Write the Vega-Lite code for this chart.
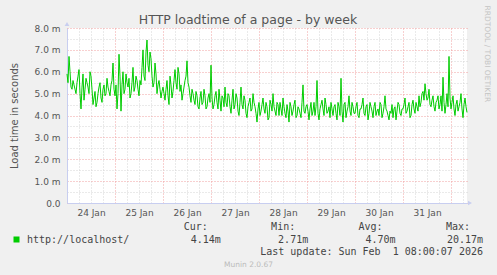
{
  "$schema": "https://vega.github.io/schema/vega-lite/v6.json",
  "width": 400,
  "height": 175,
  "autosize": {"type": "none"},
  "padding": {"left": 67, "top": 28, "right": 30, "bottom": 72},
  "background": "#f0f0f0",
  "config": {"view": {"fill": "#ffffff", "stroke": null}, "font": "DejaVu Sans"},
  "title": {"text": "HTTP loadtime of a page - by week", "fontSize": 12.5, "fontWeight": "normal", "color": "#555555", "anchor": "middle", "dx": -19, "dy": 35.5, "offset": 4, "baseline": "alphabetic"},
  "datasets": {
    "series": [
      {"t":"2026-01-24T00:00:00Z","v":5.9},{"t":"2026-01-24T01:00:00Z","v":6.7},{"t":"2026-01-24T02:00:00Z","v":5.3},{"t":"2026-01-24T03:00:00Z","v":5.6},{"t":"2026-01-24T04:00:00Z","v":5.2},{"t":"2026-01-24T05:00:00Z","v":5.5},{"t":"2026-01-24T06:00:00Z","v":6.1},{"t":"2026-01-24T07:00:00Z","v":4.3},{"t":"2026-01-24T08:00:00Z","v":5.9},{"t":"2026-01-24T09:00:00Z","v":5.2},{"t":"2026-01-24T10:00:00Z","v":5.5},{"t":"2026-01-24T11:00:00Z","v":5.0},{"t":"2026-01-24T12:00:00Z","v":5.8},{"t":"2026-01-24T13:00:00Z","v":4.5},{"t":"2026-01-24T14:00:00Z","v":5.1},{"t":"2026-01-24T15:00:00Z","v":4.6},{"t":"2026-01-24T16:00:00Z","v":5.3},{"t":"2026-01-24T17:00:00Z","v":4.8},{"t":"2026-01-24T18:00:00Z","v":5.2},{"t":"2026-01-24T19:00:00Z","v":4.9},{"t":"2026-01-24T20:00:00Z","v":5.7},{"t":"2026-01-24T21:00:00Z","v":5.1},{"t":"2026-01-24T22:00:00Z","v":5.4},{"t":"2026-01-24T23:00:00Z","v":6.4},
      {"t":"2026-01-25T00:00:00Z","v":4.9},{"t":"2026-01-25T01:00:00Z","v":4.3},{"t":"2026-01-25T02:00:00Z","v":6.8},{"t":"2026-01-25T03:00:00Z","v":4.2},{"t":"2026-01-25T04:00:00Z","v":6.0},{"t":"2026-01-25T05:00:00Z","v":5.2},{"t":"2026-01-25T06:00:00Z","v":5.5},{"t":"2026-01-25T07:00:00Z","v":5.7},{"t":"2026-01-25T08:00:00Z","v":5.0},{"t":"2026-01-25T09:00:00Z","v":6.2},{"t":"2026-01-25T10:00:00Z","v":5.3},{"t":"2026-01-25T11:00:00Z","v":5.6},{"t":"2026-01-25T12:00:00Z","v":4.9},{"t":"2026-01-25T13:00:00Z","v":5.4},{"t":"2026-01-25T14:00:00Z","v":7.0},{"t":"2026-01-25T15:00:00Z","v":5.6},{"t":"2026-01-25T16:00:00Z","v":7.45},{"t":"2026-01-25T17:00:00Z","v":6.0},{"t":"2026-01-25T18:00:00Z","v":6.6},{"t":"2026-01-25T19:00:00Z","v":5.3},{"t":"2026-01-25T20:00:00Z","v":6.4},{"t":"2026-01-25T21:00:00Z","v":5.0},{"t":"2026-01-25T22:00:00Z","v":5.6},{"t":"2026-01-25T23:00:00Z","v":4.8},
      {"t":"2026-01-26T00:00:00Z","v":5.3},{"t":"2026-01-26T01:00:00Z","v":4.7},{"t":"2026-01-26T02:00:00Z","v":5.6},{"t":"2026-01-26T03:00:00Z","v":4.5},{"t":"2026-01-26T04:00:00Z","v":5.4},{"t":"2026-01-26T05:00:00Z","v":5.1},{"t":"2026-01-26T06:00:00Z","v":6.1},{"t":"2026-01-26T07:00:00Z","v":5.2},{"t":"2026-01-26T08:00:00Z","v":5.9},{"t":"2026-01-26T09:00:00Z","v":5.4},{"t":"2026-01-26T10:00:00Z","v":5.0},{"t":"2026-01-26T11:00:00Z","v":5.6},{"t":"2026-01-26T12:00:00Z","v":6.5},{"t":"2026-01-26T13:00:00Z","v":5.3},{"t":"2026-01-26T14:00:00Z","v":4.6},{"t":"2026-01-26T15:00:00Z","v":5.0},{"t":"2026-01-26T16:00:00Z","v":4.5},{"t":"2026-01-26T17:00:00Z","v":4.9},{"t":"2026-01-26T18:00:00Z","v":4.3},{"t":"2026-01-26T19:00:00Z","v":5.1},{"t":"2026-01-26T20:00:00Z","v":4.6},{"t":"2026-01-26T21:00:00Z","v":4.9},{"t":"2026-01-26T22:00:00Z","v":4.4},{"t":"2026-01-26T23:00:00Z","v":5.0},
      {"t":"2026-01-27T00:00:00Z","v":6.3},{"t":"2026-01-27T01:00:00Z","v":4.3},{"t":"2026-01-27T02:00:00Z","v":4.9},{"t":"2026-01-27T03:00:00Z","v":4.6},{"t":"2026-01-27T04:00:00Z","v":5.2},{"t":"2026-01-27T05:00:00Z","v":4.2},{"t":"2026-01-27T06:00:00Z","v":4.8},{"t":"2026-01-27T07:00:00Z","v":5.3},{"t":"2026-01-27T08:00:00Z","v":4.4},{"t":"2026-01-27T09:00:00Z","v":4.9},{"t":"2026-01-27T10:00:00Z","v":4.1},{"t":"2026-01-27T11:00:00Z","v":5.2},{"t":"2026-01-27T12:00:00Z","v":4.5},{"t":"2026-01-27T13:00:00Z","v":4.8},{"t":"2026-01-27T14:00:00Z","v":4.0},{"t":"2026-01-27T15:00:00Z","v":5.3},{"t":"2026-01-27T16:00:00Z","v":4.3},{"t":"2026-01-27T17:00:00Z","v":4.7},{"t":"2026-01-27T18:00:00Z","v":3.9},{"t":"2026-01-27T19:00:00Z","v":4.6},{"t":"2026-01-27T20:00:00Z","v":4.2},{"t":"2026-01-27T21:00:00Z","v":5.0},{"t":"2026-01-27T22:00:00Z","v":4.4},{"t":"2026-01-27T23:00:00Z","v":3.7},
      {"t":"2026-01-28T00:00:00Z","v":4.6},{"t":"2026-01-28T01:00:00Z","v":4.2},{"t":"2026-01-28T02:00:00Z","v":4.8},{"t":"2026-01-28T03:00:00Z","v":4.1},{"t":"2026-01-28T04:00:00Z","v":4.4},{"t":"2026-01-28T05:00:00Z","v":3.9},{"t":"2026-01-28T06:00:00Z","v":4.5},{"t":"2026-01-28T07:00:00Z","v":5.0},{"t":"2026-01-28T08:00:00Z","v":4.2},{"t":"2026-01-28T09:00:00Z","v":4.6},{"t":"2026-01-28T10:00:00Z","v":4.0},{"t":"2026-01-28T11:00:00Z","v":4.3},{"t":"2026-01-28T12:00:00Z","v":4.8},{"t":"2026-01-28T13:00:00Z","v":4.1},{"t":"2026-01-28T14:00:00Z","v":4.5},{"t":"2026-01-28T15:00:00Z","v":3.7},{"t":"2026-01-28T16:00:00Z","v":4.4},{"t":"2026-01-28T17:00:00Z","v":4.2},{"t":"2026-01-28T18:00:00Z","v":4.7},{"t":"2026-01-28T19:00:00Z","v":4.0},{"t":"2026-01-28T20:00:00Z","v":4.3},{"t":"2026-01-28T21:00:00Z","v":3.9},{"t":"2026-01-28T22:00:00Z","v":5.4},{"t":"2026-01-28T23:00:00Z","v":4.1},
      {"t":"2026-01-29T00:00:00Z","v":4.5},{"t":"2026-01-29T01:00:00Z","v":3.8},{"t":"2026-01-29T02:00:00Z","v":4.6},{"t":"2026-01-29T03:00:00Z","v":4.2},{"t":"2026-01-29T04:00:00Z","v":4.0},{"t":"2026-01-29T05:00:00Z","v":5.6},{"t":"2026-01-29T06:00:00Z","v":3.8},{"t":"2026-01-29T07:00:00Z","v":4.5},{"t":"2026-01-29T08:00:00Z","v":4.3},{"t":"2026-01-29T09:00:00Z","v":4.8},{"t":"2026-01-29T10:00:00Z","v":4.1},{"t":"2026-01-29T11:00:00Z","v":4.4},{"t":"2026-01-29T12:00:00Z","v":4.6},{"t":"2026-01-29T13:00:00Z","v":4.0},{"t":"2026-01-29T14:00:00Z","v":4.5},{"t":"2026-01-29T15:00:00Z","v":3.8},{"t":"2026-01-29T16:00:00Z","v":4.4},{"t":"2026-01-29T17:00:00Z","v":5.7},{"t":"2026-01-29T18:00:00Z","v":3.7},{"t":"2026-01-29T19:00:00Z","v":4.6},{"t":"2026-01-29T20:00:00Z","v":4.2},{"t":"2026-01-29T21:00:00Z","v":4.9},{"t":"2026-01-29T22:00:00Z","v":4.0},{"t":"2026-01-29T23:00:00Z","v":4.4},
      {"t":"2026-01-30T00:00:00Z","v":4.1},{"t":"2026-01-30T01:00:00Z","v":4.6},{"t":"2026-01-30T02:00:00Z","v":3.9},{"t":"2026-01-30T03:00:00Z","v":4.3},{"t":"2026-01-30T04:00:00Z","v":4.8},{"t":"2026-01-30T05:00:00Z","v":4.0},{"t":"2026-01-30T06:00:00Z","v":4.5},{"t":"2026-01-30T07:00:00Z","v":4.1},{"t":"2026-01-30T08:00:00Z","v":4.4},{"t":"2026-01-30T09:00:00Z","v":3.9},{"t":"2026-01-30T10:00:00Z","v":4.6},{"t":"2026-01-30T11:00:00Z","v":4.2},{"t":"2026-01-30T12:00:00Z","v":4.0},{"t":"2026-01-30T13:00:00Z","v":4.5},{"t":"2026-01-30T14:00:00Z","v":4.1},{"t":"2026-01-30T15:00:00Z","v":4.9},{"t":"2026-01-30T16:00:00Z","v":4.2},{"t":"2026-01-30T17:00:00Z","v":3.8},{"t":"2026-01-30T18:00:00Z","v":4.1},{"t":"2026-01-30T19:00:00Z","v":3.9},{"t":"2026-01-30T20:00:00Z","v":4.4},{"t":"2026-01-30T21:00:00Z","v":4.2},{"t":"2026-01-30T22:00:00Z","v":4.5},{"t":"2026-01-30T23:00:00Z","v":4.0},
      {"t":"2026-01-31T00:00:00Z","v":4.3},{"t":"2026-01-31T01:00:00Z","v":4.8},{"t":"2026-01-31T02:00:00Z","v":4.2},{"t":"2026-01-31T03:00:00Z","v":4.6},{"t":"2026-01-31T04:00:00Z","v":4.0},{"t":"2026-01-31T05:00:00Z","v":4.7},{"t":"2026-01-31T06:00:00Z","v":4.1},{"t":"2026-01-31T07:00:00Z","v":4.4},{"t":"2026-01-31T08:00:00Z","v":4.9},{"t":"2026-01-31T09:00:00Z","v":4.6},{"t":"2026-01-31T10:00:00Z","v":5.1},{"t":"2026-01-31T11:00:00Z","v":5.45},{"t":"2026-01-31T12:00:00Z","v":4.7},{"t":"2026-01-31T13:00:00Z","v":5.2},{"t":"2026-01-31T14:00:00Z","v":4.4},{"t":"2026-01-31T15:00:00Z","v":4.9},{"t":"2026-01-31T16:00:00Z","v":4.2},{"t":"2026-01-31T17:00:00Z","v":4.7},{"t":"2026-01-31T18:00:00Z","v":4.3},{"t":"2026-01-31T19:00:00Z","v":4.9},{"t":"2026-01-31T20:00:00Z","v":5.75},{"t":"2026-01-31T21:00:00Z","v":4.1},{"t":"2026-01-31T22:00:00Z","v":5.0},{"t":"2026-01-31T23:00:00Z","v":6.7},
      {"t":"2026-02-01T00:00:00Z","v":4.3},{"t":"2026-02-01T01:00:00Z","v":4.9},{"t":"2026-02-01T02:00:00Z","v":4.0},{"t":"2026-02-01T03:00:00Z","v":4.7},{"t":"2026-02-01T04:00:00Z","v":4.4},{"t":"2026-02-01T05:00:00Z","v":5.0},{"t":"2026-02-01T06:00:00Z","v":3.9},{"t":"2026-02-01T07:00:00Z","v":4.8},{"t":"2026-02-01T08:00:00Z","v":4.14},
      {"t":"2026-01-24T00:30:00Z","v":5.5},{"t":"2026-01-24T01:30:00Z","v":6.0},{"t":"2026-01-24T02:30:00Z","v":5.2},{"t":"2026-01-24T03:30:00Z","v":5.4},{"t":"2026-01-24T04:30:00Z","v":5.0},{"t":"2026-01-24T05:30:00Z","v":5.8},{"t":"2026-01-24T06:30:00Z","v":5.0},{"t":"2026-01-24T07:30:00Z","v":5.3},{"t":"2026-01-24T08:30:00Z","v":4.7},{"t":"2026-01-24T09:30:00Z","v":5.7},{"t":"2026-01-24T10:30:00Z","v":5.3},{"t":"2026-01-24T11:30:00Z","v":6.0},{"t":"2026-01-24T12:30:00Z","v":5.2},{"t":"2026-01-24T13:30:00Z","v":4.8},{"t":"2026-01-24T14:30:00Z","v":4.4},{"t":"2026-01-24T15:30:00Z","v":5.0},{"t":"2026-01-24T16:30:00Z","v":5.5},{"t":"2026-01-24T17:30:00Z","v":4.6},{"t":"2026-01-24T18:30:00Z","v":5.4},{"t":"2026-01-24T19:30:00Z","v":5.0},{"t":"2026-01-24T20:30:00Z","v":5.3},{"t":"2026-01-24T21:30:00Z","v":4.9},{"t":"2026-01-24T22:30:00Z","v":5.6},{"t":"2026-01-24T23:30:00Z","v":5.2},
      {"t":"2026-01-25T00:30:00Z","v":5.4},{"t":"2026-01-25T01:30:00Z","v":5.0},{"t":"2026-01-25T02:30:00Z","v":5.8},{"t":"2026-01-25T03:30:00Z","v":5.4},{"t":"2026-01-25T04:30:00Z","v":5.0},{"t":"2026-01-25T05:30:00Z","v":5.9},{"t":"2026-01-25T06:30:00Z","v":5.3},{"t":"2026-01-25T07:30:00Z","v":4.8},{"t":"2026-01-25T08:30:00Z","v":5.5},{"t":"2026-01-25T09:30:00Z","v":5.1},{"t":"2026-01-25T10:30:00Z","v":5.8},{"t":"2026-01-25T11:30:00Z","v":5.2},{"t":"2026-01-25T12:30:00Z","v":5.6},{"t":"2026-01-25T13:30:00Z","v":6.2},{"t":"2026-01-25T14:30:00Z","v":5.8},{"t":"2026-01-25T15:30:00Z","v":6.9},{"t":"2026-01-25T16:30:00Z","v":6.3},{"t":"2026-01-25T17:30:00Z","v":6.9},{"t":"2026-01-25T18:30:00Z","v":5.8},{"t":"2026-01-25T19:30:00Z","v":5.5},{"t":"2026-01-25T20:30:00Z","v":5.9},{"t":"2026-01-25T21:30:00Z","v":5.4},{"t":"2026-01-25T22:30:00Z","v":5.2},{"t":"2026-01-25T23:30:00Z","v":5.1},
      {"t":"2026-01-26T00:30:00Z","v":5.0},{"t":"2026-01-26T01:30:00Z","v":5.2},{"t":"2026-01-26T02:30:00Z","v":4.9},{"t":"2026-01-26T03:30:00Z","v":5.8},{"t":"2026-01-26T04:30:00Z","v":4.8},{"t":"2026-01-26T05:30:00Z","v":5.6},{"t":"2026-01-26T06:30:00Z","v":5.5},{"t":"2026-01-26T07:30:00Z","v":6.2},{"t":"2026-01-26T08:30:00Z","v":5.1},{"t":"2026-01-26T09:30:00Z","v":4.7},{"t":"2026-01-26T10:30:00Z","v":5.3},{"t":"2026-01-26T11:30:00Z","v":5.8},{"t":"2026-01-26T12:30:00Z","v":5.5},{"t":"2026-01-26T13:30:00Z","v":4.9},{"t":"2026-01-26T14:30:00Z","v":5.2},{"t":"2026-01-26T15:30:00Z","v":4.7},{"t":"2026-01-26T16:30:00Z","v":5.1},{"t":"2026-01-26T17:30:00Z","v":4.4},{"t":"2026-01-26T18:30:00Z","v":4.8},{"t":"2026-01-26T19:30:00Z","v":4.5},{"t":"2026-01-26T20:30:00Z","v":5.2},{"t":"2026-01-26T21:30:00Z","v":4.3},{"t":"2026-01-26T22:30:00Z","v":4.8},{"t":"2026-01-26T23:30:00Z","v":4.6},
      {"t":"2026-01-27T00:30:00Z","v":4.8},{"t":"2026-01-27T01:30:00Z","v":4.5},{"t":"2026-01-27T02:30:00Z","v":5.1},{"t":"2026-01-27T03:30:00Z","v":4.3},{"t":"2026-01-27T04:30:00Z","v":4.7},{"t":"2026-01-27T05:30:00Z","v":4.9},{"t":"2026-01-27T06:30:00Z","v":4.4},{"t":"2026-01-27T07:30:00Z","v":4.6},{"t":"2026-01-27T08:30:00Z","v":5.0},{"t":"2026-01-27T09:30:00Z","v":4.4},{"t":"2026-01-27T10:30:00Z","v":4.7},{"t":"2026-01-27T11:30:00Z","v":4.3},{"t":"2026-01-27T12:30:00Z","v":5.0},{"t":"2026-01-27T13:30:00Z","v":4.2},{"t":"2026-01-27T14:30:00Z","v":4.6},{"t":"2026-01-27T15:30:00Z","v":4.5},{"t":"2026-01-27T16:30:00Z","v":4.9},{"t":"2026-01-27T17:30:00Z","v":4.1},{"t":"2026-01-27T18:30:00Z","v":4.4},{"t":"2026-01-27T19:30:00Z","v":4.8},{"t":"2026-01-27T20:30:00Z","v":4.3},{"t":"2026-01-27T21:30:00Z","v":4.6},{"t":"2026-01-27T22:30:00Z","v":4.1},{"t":"2026-01-27T23:30:00Z","v":4.3},
      {"t":"2026-01-28T00:30:00Z","v":4.0},{"t":"2026-01-28T01:30:00Z","v":4.5},{"t":"2026-01-28T02:30:00Z","v":4.3},{"t":"2026-01-28T03:30:00Z","v":4.6},{"t":"2026-01-28T04:30:00Z","v":3.8},{"t":"2026-01-28T05:30:00Z","v":4.7},{"t":"2026-01-28T06:30:00Z","v":4.2},{"t":"2026-01-28T07:30:00Z","v":4.4},{"t":"2026-01-28T08:30:00Z","v":4.0},{"t":"2026-01-28T09:30:00Z","v":4.5},{"t":"2026-01-28T10:30:00Z","v":4.6},{"t":"2026-01-28T11:30:00Z","v":4.0},{"t":"2026-01-28T12:30:00Z","v":4.4},{"t":"2026-01-28T13:30:00Z","v":3.9},{"t":"2026-01-28T14:30:00Z","v":4.2},{"t":"2026-01-28T15:30:00Z","v":4.6},{"t":"2026-01-28T16:30:00Z","v":4.0},{"t":"2026-01-28T17:30:00Z","v":4.5},{"t":"2026-01-28T18:30:00Z","v":3.9},{"t":"2026-01-28T19:30:00Z","v":4.4},{"t":"2026-01-28T20:30:00Z","v":4.1},{"t":"2026-01-28T21:30:00Z","v":4.6},{"t":"2026-01-28T22:30:00Z","v":4.2},{"t":"2026-01-28T23:30:00Z","v":4.4},
      {"t":"2026-01-29T00:30:00Z","v":4.2},{"t":"2026-01-29T01:30:00Z","v":4.3},{"t":"2026-01-29T02:30:00Z","v":4.0},{"t":"2026-01-29T03:30:00Z","v":4.6},{"t":"2026-01-29T04:30:00Z","v":4.4},{"t":"2026-01-29T05:30:00Z","v":4.1},{"t":"2026-01-29T06:30:00Z","v":4.3},{"t":"2026-01-29T07:30:00Z","v":4.7},{"t":"2026-01-29T08:30:00Z","v":4.0},{"t":"2026-01-29T09:30:00Z","v":4.5},{"t":"2026-01-29T10:30:00Z","v":4.2},{"t":"2026-01-29T11:30:00Z","v":3.9},{"t":"2026-01-29T12:30:00Z","v":4.3},{"t":"2026-01-29T13:30:00Z","v":4.4},{"t":"2026-01-29T14:30:00Z","v":4.1},{"t":"2026-01-29T15:30:00Z","v":4.6},{"t":"2026-01-29T16:30:00Z","v":4.0},{"t":"2026-01-29T17:30:00Z","v":4.2},{"t":"2026-01-29T18:30:00Z","v":4.5},{"t":"2026-01-29T19:30:00Z","v":3.9},{"t":"2026-01-29T20:30:00Z","v":4.4},{"t":"2026-01-29T21:30:00Z","v":4.2},{"t":"2026-01-29T22:30:00Z","v":4.6},{"t":"2026-01-29T23:30:00Z","v":4.1},
      {"t":"2026-01-30T00:30:00Z","v":4.4},{"t":"2026-01-30T01:30:00Z","v":4.0},{"t":"2026-01-30T02:30:00Z","v":4.3},{"t":"2026-01-30T03:30:00Z","v":4.5},{"t":"2026-01-30T04:30:00Z","v":4.1},{"t":"2026-01-30T05:30:00Z","v":4.4},{"t":"2026-01-30T06:30:00Z","v":3.8},{"t":"2026-01-30T07:30:00Z","v":4.6},{"t":"2026-01-30T08:30:00Z","v":4.2},{"t":"2026-01-30T09:30:00Z","v":4.4},{"t":"2026-01-30T10:30:00Z","v":4.0},{"t":"2026-01-30T11:30:00Z","v":4.3},{"t":"2026-01-30T12:30:00Z","v":4.6},{"t":"2026-01-30T13:30:00Z","v":3.9},{"t":"2026-01-30T14:30:00Z","v":4.4},{"t":"2026-01-30T15:30:00Z","v":4.3},{"t":"2026-01-30T16:30:00Z","v":4.0},{"t":"2026-01-30T17:30:00Z","v":4.2},{"t":"2026-01-30T18:30:00Z","v":4.5},{"t":"2026-01-30T19:30:00Z","v":4.3},{"t":"2026-01-30T20:30:00Z","v":3.8},{"t":"2026-01-30T21:30:00Z","v":4.6},{"t":"2026-01-30T22:30:00Z","v":4.1},{"t":"2026-01-30T23:30:00Z","v":4.3},
      {"t":"2026-01-31T00:30:00Z","v":4.5},{"t":"2026-01-31T01:30:00Z","v":4.1},{"t":"2026-01-31T02:30:00Z","v":4.4},{"t":"2026-01-31T03:30:00Z","v":3.9},{"t":"2026-01-31T04:30:00Z","v":4.5},{"t":"2026-01-31T05:30:00Z","v":4.3},{"t":"2026-01-31T06:30:00Z","v":4.6},{"t":"2026-01-31T07:30:00Z","v":4.2},{"t":"2026-01-31T08:30:00Z","v":4.4},{"t":"2026-01-31T09:30:00Z","v":5.0},{"t":"2026-01-31T10:30:00Z","v":4.7},{"t":"2026-01-31T11:30:00Z","v":5.0},{"t":"2026-01-31T12:30:00Z","v":4.8},{"t":"2026-01-31T13:30:00Z","v":4.5},{"t":"2026-01-31T14:30:00Z","v":4.7},{"t":"2026-01-31T15:30:00Z","v":4.4},{"t":"2026-01-31T16:30:00Z","v":4.6},{"t":"2026-01-31T17:30:00Z","v":4.9},{"t":"2026-01-31T18:30:00Z","v":4.5},{"t":"2026-01-31T19:30:00Z","v":4.2},{"t":"2026-01-31T20:30:00Z","v":4.6},{"t":"2026-01-31T21:30:00Z","v":4.5},{"t":"2026-01-31T22:30:00Z","v":4.4},{"t":"2026-01-31T23:30:00Z","v":4.8},
      {"t":"2026-02-01T00:30:00Z","v":4.6},{"t":"2026-02-01T01:30:00Z","v":4.3},{"t":"2026-02-01T02:30:00Z","v":4.5},{"t":"2026-02-01T03:30:00Z","v":4.2},{"t":"2026-02-01T04:30:00Z","v":4.6},{"t":"2026-02-01T05:30:00Z","v":4.3},{"t":"2026-02-01T06:30:00Z","v":4.5},{"t":"2026-02-01T07:30:00Z","v":4.4}
    ],
    "axisends": [
      {"end": "x", "t": "2026-02-01T08:00:00Z", "v": 0},
      {"end": "y", "t": "2026-01-24T00:00:00Z", "v": 8}
    ],
    "legendrows": [
      {"kind":"head","row":"head","col":"cur","text":"Cur:"},
      {"kind":"head","row":"head","col":"min","text":"Min:"},
      {"kind":"head","row":"head","col":"avg","text":"Avg:"},
      {"kind":"head","row":"head","col":"max","text":"Max:"},
      {"kind":"name","row":"vals","col":"name","text":"http://localhost/"},
      {"kind":"value","row":"vals","col":"cur","text":"4.14m"},
      {"kind":"value","row":"vals","col":"min","text":"2.71m"},
      {"kind":"value","row":"vals","col":"avg","text":"4.70m"},
      {"kind":"value","row":"vals","col":"max","text":"20.17m"},
      {"kind":"value","row":"update","col":"max","text":"Last update: Sun Feb \u00a01 08:00:07 2026"}
    ]
  },
  "layer": [
    {
      "data": {"name": "series"},
      "mark": {"type": "line", "color": "#00cc00", "strokeWidth": 1},
      "encoding": {
        "x": {
          "field": "t", "type": "temporal",
          "scale": {"type": "utc", "nice": false, "domain": [{"year": 2026, "month": 1, "date": 24, "utc": true}, {"year": 2026, "month": 2, "date": 1, "hours": 8, "utc": true}]},
          "axis": {
            "title": "Munin 2.0.67", "titleFontSize": 7.5, "titleFontWeight": "normal", "titleColor": "#bbbbbb",
            "titleX": 181, "titleY": 61, "titleAlign": "center", "titleBaseline": "middle",
            "values": [
              {"year":2026,"month":1,"date":24,"hours":0,"utc":true},{"year":2026,"month":1,"date":24,"hours":6,"utc":true},{"year":2026,"month":1,"date":24,"hours":12,"utc":true},{"year":2026,"month":1,"date":24,"hours":18,"utc":true},
              {"year":2026,"month":1,"date":25,"hours":0,"utc":true},{"year":2026,"month":1,"date":25,"hours":6,"utc":true},{"year":2026,"month":1,"date":25,"hours":12,"utc":true},{"year":2026,"month":1,"date":25,"hours":18,"utc":true},
              {"year":2026,"month":1,"date":26,"hours":0,"utc":true},{"year":2026,"month":1,"date":26,"hours":6,"utc":true},{"year":2026,"month":1,"date":26,"hours":12,"utc":true},{"year":2026,"month":1,"date":26,"hours":18,"utc":true},
              {"year":2026,"month":1,"date":27,"hours":0,"utc":true},{"year":2026,"month":1,"date":27,"hours":6,"utc":true},{"year":2026,"month":1,"date":27,"hours":12,"utc":true},{"year":2026,"month":1,"date":27,"hours":18,"utc":true},
              {"year":2026,"month":1,"date":28,"hours":0,"utc":true},{"year":2026,"month":1,"date":28,"hours":6,"utc":true},{"year":2026,"month":1,"date":28,"hours":12,"utc":true},{"year":2026,"month":1,"date":28,"hours":18,"utc":true},
              {"year":2026,"month":1,"date":29,"hours":0,"utc":true},{"year":2026,"month":1,"date":29,"hours":6,"utc":true},{"year":2026,"month":1,"date":29,"hours":12,"utc":true},{"year":2026,"month":1,"date":29,"hours":18,"utc":true},
              {"year":2026,"month":1,"date":30,"hours":0,"utc":true},{"year":2026,"month":1,"date":30,"hours":6,"utc":true},{"year":2026,"month":1,"date":30,"hours":12,"utc":true},{"year":2026,"month":1,"date":30,"hours":18,"utc":true},
              {"year":2026,"month":1,"date":31,"hours":0,"utc":true},{"year":2026,"month":1,"date":31,"hours":6,"utc":true},{"year":2026,"month":1,"date":31,"hours":12,"utc":true},{"year":2026,"month":1,"date":31,"hours":18,"utc":true},
              {"year":2026,"month":2,"date":1,"hours":0,"utc":true},{"year":2026,"month":2,"date":1,"hours":6,"utc":true}
            ],
            "labelExpr": "utchours(datum.value) == 12 ? utcFormat(datum.value, '%d %b') : ''",
            "labelOverlap": false, "labelFlush": false, "labelFontSize": 9, "labelColor": "#555555", "labelPadding": 5,
            "ticks": false, "domainColor": "#c8cef0",
            "grid": true, "gridDash": [1, 2], "gridOpacity": 1,
            "gridColor": {"condition": {"test": "utchours(datum.value) == 0", "value": "#f0a0a0"}, "value": "#d4d4d4"}
          }
        },
        "y": {
          "field": "v", "type": "quantitative",
          "scale": {"domain": [0, 8], "nice": false},
          "axis": {
            "title": "Load time in seconds", "titleFontSize": 10, "titleFontWeight": "normal", "titleColor": "#555555",
            "titleX": -50, "titleY": 87.5, "titleAlign": "center", "titleBaseline": "alphabetic",
            "values": [0, 0.5, 1, 1.5, 2, 2.5, 3, 3.5, 4, 4.5, 5, 5.5, 6, 6.5, 7, 7.5, 8],
            "labelExpr": "datum.value % 1 == 0 ? (datum.value == 0 ? '0.0' : format(datum.value, '.1f') + ' m') : ''",
            "labelOverlap": false, "labelFontSize": 9, "labelColor": "#555555", "labelPadding": 7,
            "ticks": false, "domainColor": "#c8cef0",
            "grid": true, "gridDash": [1, 2], "gridOpacity": 1,
            "gridColor": {"condition": {"test": "datum.value % 1 == 0", "value": "#f0a0a0"}, "value": "#d4d4d4"}
          }
        }
      }
    },
    {
      "data": {"name": "axisends"},
      "transform": [{"filter": "datum.end == 'x'"}],
      "mark": {"type": "point", "shape": "triangle-right", "size": 22, "filled": true, "color": "#c8cef0", "opacity": 1, "xOffset": 3},
      "encoding": {
        "x": {"field": "t", "type": "temporal", "scale": {"type": "utc", "nice": false, "domain": [{"year": 2026, "month": 1, "date": 24, "utc": true}, {"year": 2026, "month": 2, "date": 1, "hours": 8, "utc": true}]}, "axis": null},
        "y": {"field": "v", "type": "quantitative", "scale": {"domain": [0, 8], "nice": false}, "axis": null}
      }
    },
    {
      "data": {"name": "axisends"},
      "transform": [{"filter": "datum.end == 'y'"}],
      "mark": {"type": "point", "shape": "triangle-up", "size": 22, "filled": true, "color": "#c8cef0", "opacity": 1, "yOffset": -4},
      "encoding": {
        "x": {"field": "t", "type": "temporal", "scale": {"type": "utc", "nice": false, "domain": [{"year": 2026, "month": 1, "date": 24, "utc": true}, {"year": 2026, "month": 2, "date": 1, "hours": 8, "utc": true}]}, "axis": null},
        "y": {"field": "v", "type": "quantitative", "scale": {"domain": [0, 8], "nice": false}, "axis": null}
      }
    },
    {
      "data": {"name": "legendrows"},
      "transform": [{"filter": "datum.kind == 'name'"}],
      "mark": {"type": "square", "size": 36, "color": "#00cc00", "opacity": 1, "filled": true, "xOffset": -29.5},
      "encoding": {
        "x": {"field": "col", "type": "nominal", "scale": {"type": "point", "domain": ["name", "gap", "cur", "min", "avg", "max"], "range": [-21, 416], "padding": 0}, "axis": null},
        "y": {"field": "row", "type": "nominal", "scale": {"type": "point", "domain": ["head", "vals", "update"], "range": [199, 224], "padding": 0},
          "axis": {"orient": "right", "title": "RRDTOOL / TOBI OETIKER", "labels": false, "ticks": false, "domain": false, "grid": false,
            "titleAngle": 90, "titleFontSize": 7.5, "titleFontWeight": "normal", "titleColor": "#c4c4c4",
            "titleX": 17, "titleY": -23, "titleAlign": "left", "titleBaseline": "alphabetic"}}
      }
    },
    {
      "data": {"name": "legendrows"},
      "transform": [{"filter": "datum.kind == 'name'"}],
      "mark": {"type": "text", "font": "DejaVu Sans Mono", "fontSize": 10, "color": "#444444", "align": "left", "baseline": "middle", "dx": -19},
      "encoding": {
        "x": {"field": "col", "type": "nominal", "scale": {"type": "point", "domain": ["name", "gap", "cur", "min", "avg", "max"], "range": [-21, 416], "padding": 0}, "axis": null},
        "y": {"field": "row", "type": "nominal", "scale": {"type": "point", "domain": ["head", "vals", "update"], "range": [199, 224], "padding": 0}, "axis": null},
        "text": {"field": "text"}
      }
    },
    {
      "data": {"name": "legendrows"},
      "transform": [{"filter": "datum.kind == 'head'"}],
      "mark": {"type": "text", "font": "DejaVu Sans Mono", "fontSize": 10, "color": "#444444", "align": "right", "baseline": "middle", "dx": -13},
      "encoding": {
        "x": {"field": "col", "type": "nominal", "scale": {"type": "point", "domain": ["name", "gap", "cur", "min", "avg", "max"], "range": [-21, 416], "padding": 0}, "axis": null},
        "y": {"field": "row", "type": "nominal", "scale": {"type": "point", "domain": ["head", "vals", "update"], "range": [199, 224], "padding": 0}, "axis": null},
        "text": {"field": "text"}
      }
    },
    {
      "data": {"name": "legendrows"},
      "transform": [{"filter": "datum.kind == 'value'"}],
      "mark": {"type": "text", "font": "DejaVu Sans Mono", "fontSize": 10, "color": "#444444", "align": "right", "baseline": "middle"},
      "encoding": {
        "x": {"field": "col", "type": "nominal", "scale": {"type": "point", "domain": ["name", "gap", "cur", "min", "avg", "max"], "range": [-21, 416], "padding": 0}, "axis": null},
        "y": {"field": "row", "type": "nominal", "scale": {"type": "point", "domain": ["head", "vals", "update"], "range": [199, 224], "padding": 0}, "axis": null},
        "text": {"field": "text"}
      }
    }
  ],
  "resolve": {"scale": {"x": "independent", "y": "independent"}, "axis": {"x": "independent", "y": "independent"}}
}
